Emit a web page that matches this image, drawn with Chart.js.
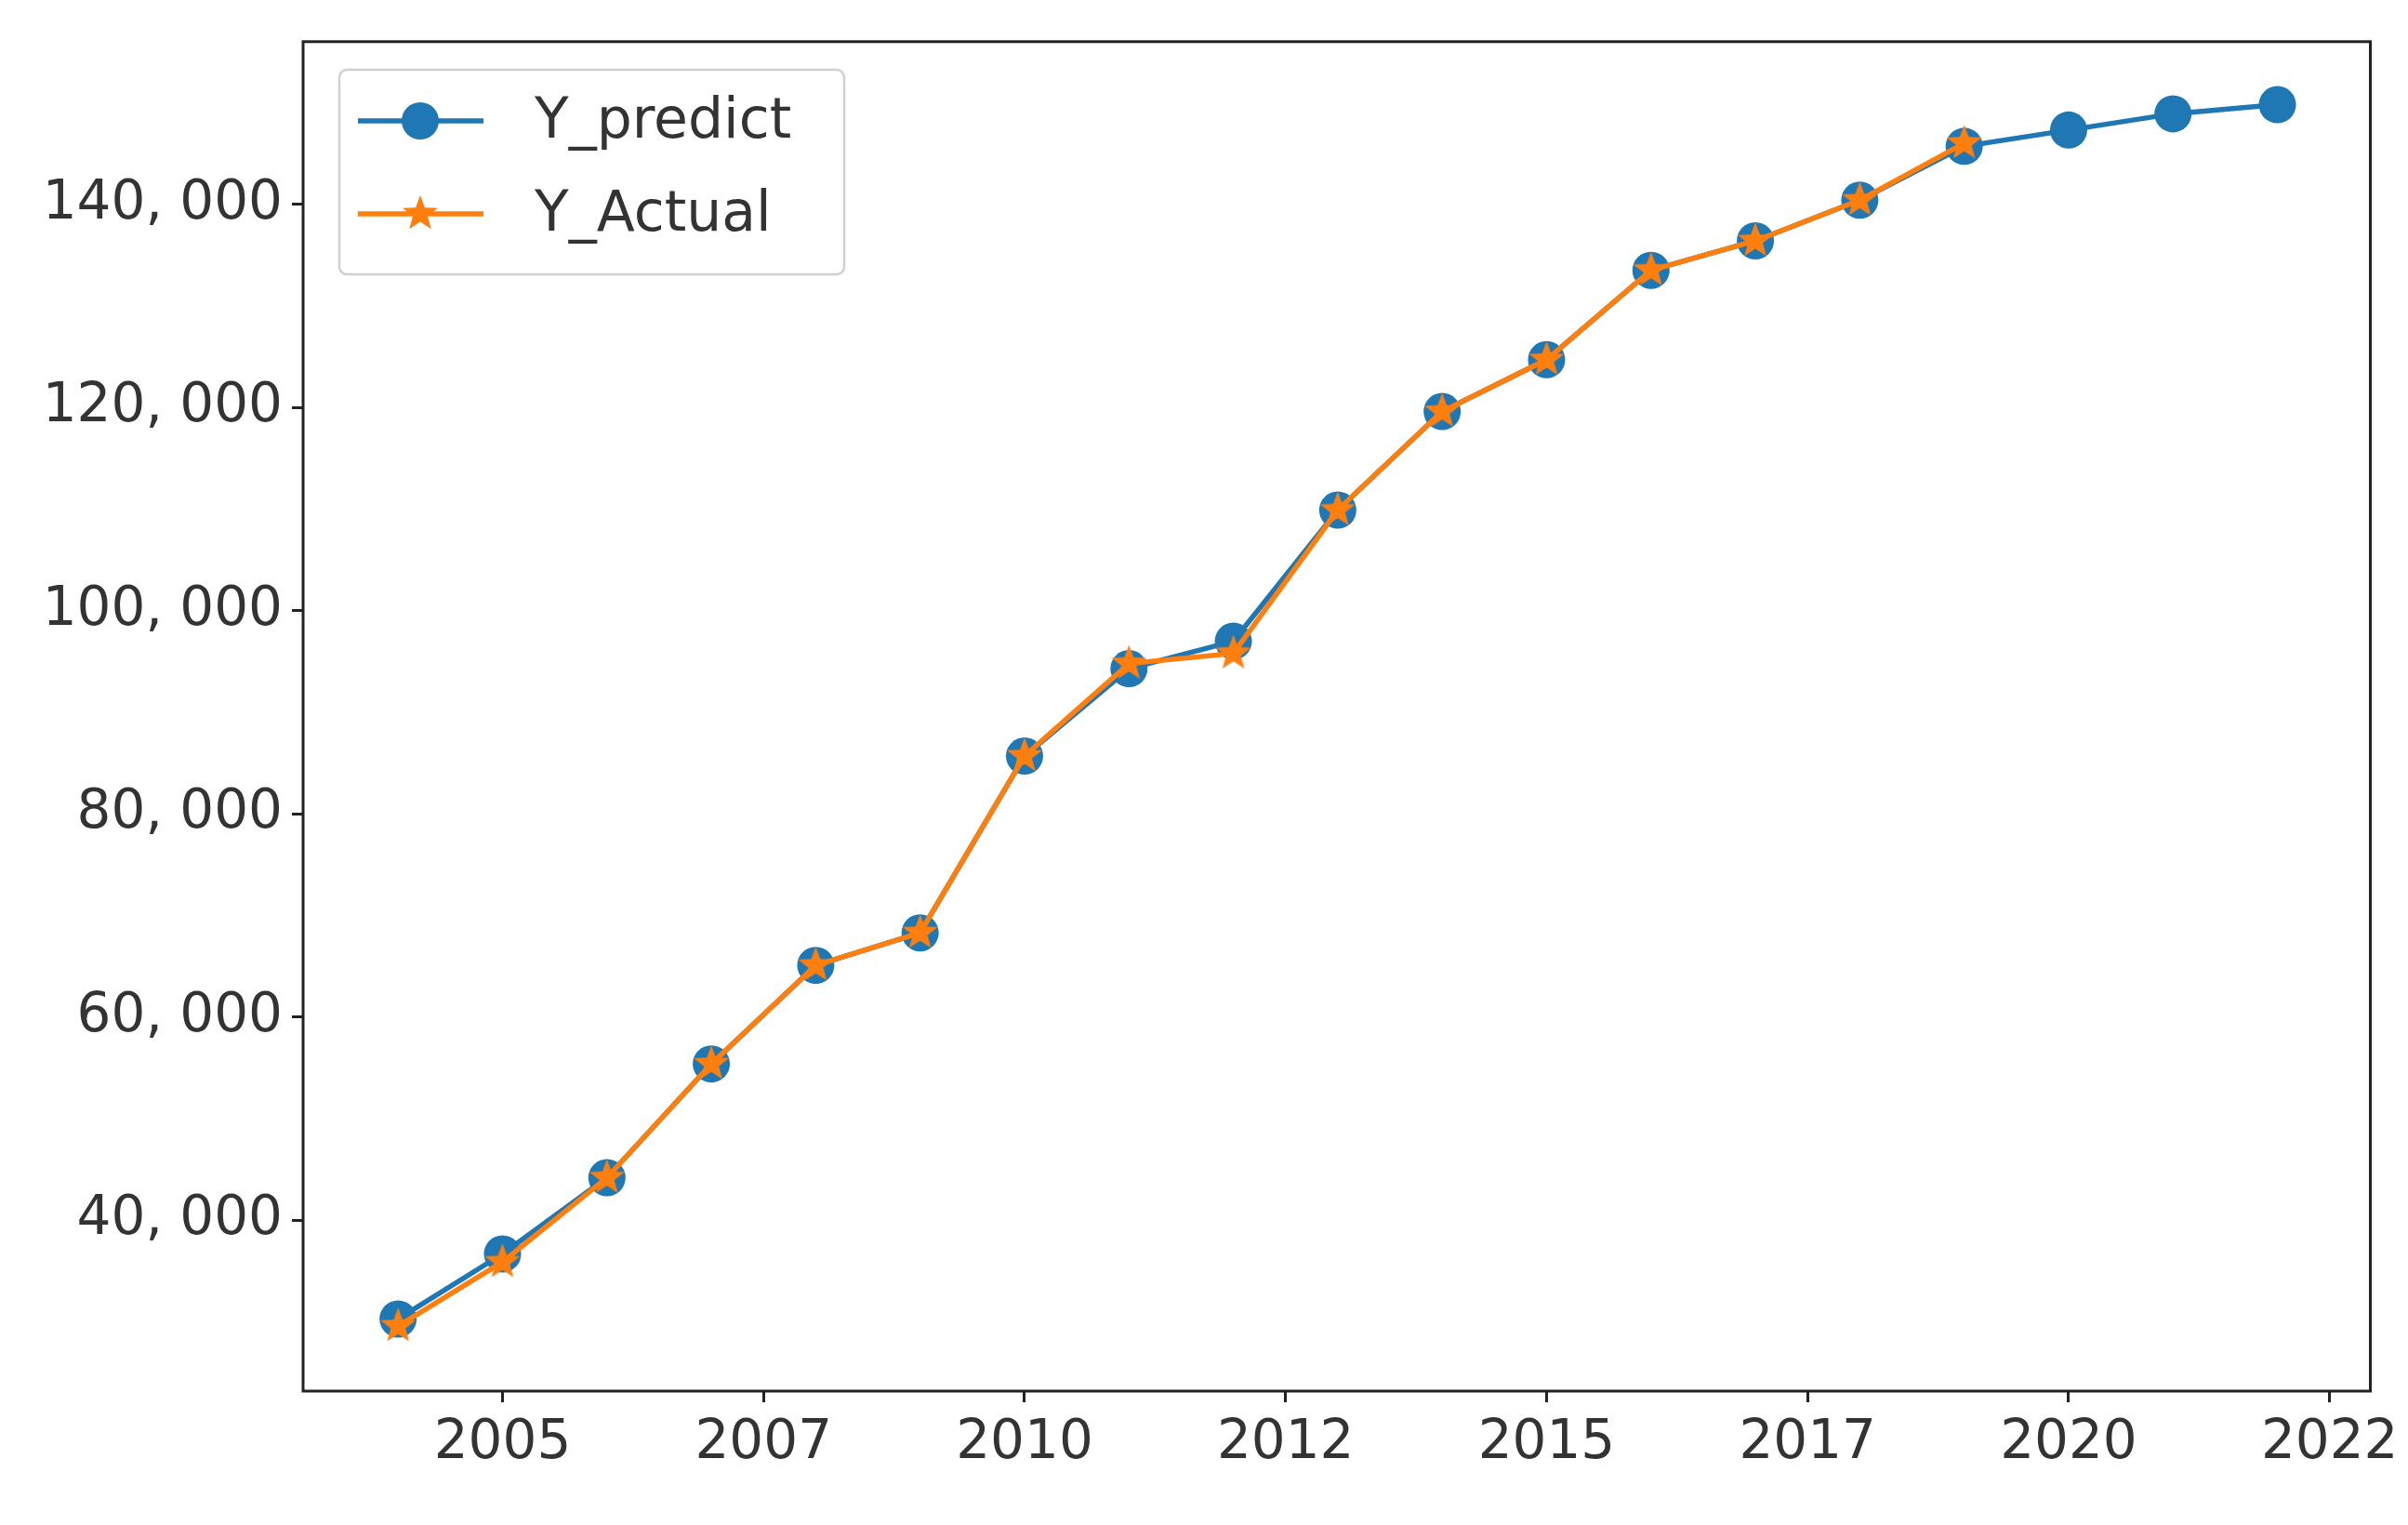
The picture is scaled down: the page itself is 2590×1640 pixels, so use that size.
<!DOCTYPE html>
<html>
<head>
<meta charset="utf-8">
<script src="https://cdn.jsdelivr.net/npm/chart.js@4/dist/chart.umd.min.js"></script>
<style>
  html, body { margin: 0; padding: 0; background: #fff; }
  #wrap { width: 2590px; height: 1640px; }
</style>
</head>
<body>
<div id="wrap"><canvas id="chart"></canvas></div>
<script>
const years = [2004, 2005, 2006, 2007, 2008, 2009, 2010, 2011, 2012, 2013, 2014, 2015, 2016, 2017, 2018, 2019, 2020, 2021, 2022];
const yPredict = [30300, 36700, 44200, 55400, 65100, 68300, 85700, 94300, 97000, 109900, 119600, 124700, 133500, 136400, 140400, 145700, 147300, 148900, 149800];
const yActual = [29600, 35900, 44200, 55400, 65100, 68300, 85700, 94800, 95800, 109900, 119600, 124700, 133500, 136400, 140400, 146000];
const xTicks = [2005, 2007.5, 2010, 2012.5, 2015, 2017.5, 2020, 2022.5];
const yTicks = [40000, 60000, 80000, 100000, 120000, 140000];

const FONT = "DejaVu Sans";
const BLUE = "#1f77b4";
const ORANGE = "#ff7f0e";

// filled five-point star, like matplotlib's '*' marker
function makeStar(r) {
  const c = document.createElement("canvas");
  c.width = c.height = r * 2 + 4;
  const g = c.getContext("2d");
  g.fillStyle = ORANGE;
  g.beginPath();
  for (let i = 0; i < 10; i++) {
    const rad = i % 2 === 0 ? r : r * 0.42;
    const a = -Math.PI / 2 + i * Math.PI / 5;
    const px = r + 2 + rad * Math.cos(a), py = r + 2 + rad * Math.sin(a);
    i ? g.lineTo(px, py) : g.moveTo(px, py);
  }
  g.closePath();
  g.fill();
  return c;
}
const star = makeStar(20);

const framePlugin = {
  id: "frame",
  afterDraw(chart) {
    const { ctx, chartArea: a } = chart;
    ctx.save();
    ctx.strokeStyle = "#222";
    ctx.lineWidth = 3;
    ctx.strokeRect(a.left, a.top, a.right - a.left, a.bottom - a.top);

    const bx = 365, by = 75, bw = 543, bh = 220;
    ctx.fillStyle = "rgba(255,255,255,0.8)";
    ctx.strokeStyle = "#d0d0d0";
    ctx.lineWidth = 2.5;
    ctx.beginPath();
    ctx.roundRect(bx, by, bw, bh, 8);
    ctx.fill();
    ctx.stroke();

    const rows = [
      { label: "Y_predict", color: BLUE, y: by + 55 },
      { label: "Y_Actual", color: ORANGE, y: by + 155 }
    ];
    rows.forEach((r, i) => {
      ctx.strokeStyle = r.color;
      ctx.lineWidth = 5.5;
      ctx.beginPath();
      ctx.moveTo(bx + 20, r.y);
      ctx.lineTo(bx + 155, r.y);
      ctx.stroke();
      if (i === 0) {
        ctx.fillStyle = BLUE;
        ctx.beginPath();
        ctx.arc(bx + 87, r.y, 20, 0, Math.PI * 2);
        ctx.fill();
      } else {
        ctx.drawImage(star, bx + 87 - star.width / 2, r.y - star.height / 2);
      }
      ctx.fillStyle = "#333";
      ctx.font = `60px "${FONT}"`;
      ctx.textBaseline = "middle";
      ctx.fillText(r.label, bx + 210, r.y + 2);
    });
    ctx.restore();
  }
};

new Chart(document.getElementById("chart"), {
  type: "line",
  data: {
    datasets: [
      {
        label: "Y_predict",
        order: 1,
        data: years.map((y, i) => ({ x: y, y: yPredict[i] })),
        borderColor: BLUE,
        backgroundColor: BLUE,
        borderWidth: 5.5,
        pointStyle: "circle",
        pointRadius: 20,
        pointBorderWidth: 0
      },
      {
        label: "Y_Actual",
        order: 0,
        data: yActual.map((v, i) => ({ x: years[i], y: v })),
        borderColor: ORANGE,
        backgroundColor: ORANGE,
        borderWidth: 5.5,
        pointStyle: star,
        pointRadius: 20
      }
    ]
  },
  options: {
    responsive: true,
    maintainAspectRatio: false,
    animation: false,
    layout: { padding: { top: 41, right: 25, left: 0, bottom: 0 } },
    plugins: { legend: { display: false }, tooltip: { enabled: false } },
    scales: {
      x: {
        type: "linear",
        min: 2003.09,
        max: 2022.89,
        afterBuildTicks: axis => { axis.ticks = xTicks.map(v => ({ value: v })); },
        afterFit: axis => { axis.height = 144; },
        ticks: {
          callback: v => String(Math.floor(v)),
          color: "#333",
          font: { family: FONT, size: 58 },
          padding: 10,
          maxRotation: 0
        },
        grid: { drawOnChartArea: false, drawTicks: true, tickLength: 12, tickWidth: 3, color: "#222" },
        border: { display: false }
      },
      y: {
        min: 23200,
        max: 156000,
        afterBuildTicks: axis => { axis.ticks = yTicks.map(v => ({ value: v })); },
        afterFit: axis => { axis.width = 326; },
        ticks: {
          callback: v => Math.floor(v / 1000) + ", 000",
          color: "#333",
          font: { family: FONT, size: 58 },
          padding: 10
        },
        grid: { drawOnChartArea: false, drawTicks: true, tickLength: 12, tickWidth: 3, color: "#222" },
        border: { display: false }
      }
    }
  },
  plugins: [framePlugin]
});
</script>
</body>
</html>
